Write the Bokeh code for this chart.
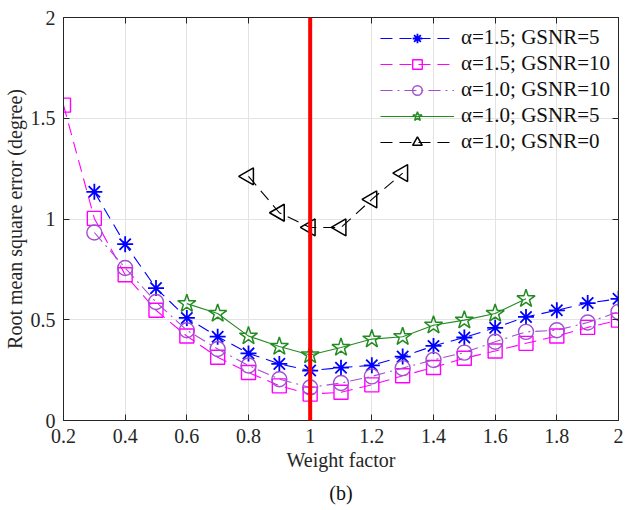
import math

from bokeh.embed import file_html
from bokeh.models import (FixedTicker, Legend, LegendItem, LinearAxis, Range1d,
                          Span, Title)
from bokeh.plotting import figure
from bokeh.resources import INLINE

# --- data -------------------------------------------------------------
w_a15_g5 = [0.3, 0.4, 0.5, 0.6, 0.7, 0.8, 0.9, 1.0, 1.1, 1.2, 1.3, 1.4, 1.5,
            1.6, 1.7, 1.8, 1.9, 2.0]
rmse_a15_g5 = [1.135, 0.875, 0.657, 0.509, 0.416, 0.333, 0.281, 0.248, 0.262,
               0.274, 0.317, 0.370, 0.412, 0.460, 0.514, 0.547, 0.583, 0.604]

w_a15_g10 = [0.2, 0.3, 0.4, 0.5, 0.6, 0.7, 0.8, 0.9, 1.0, 1.1, 1.2, 1.3, 1.4,
             1.5, 1.6, 1.7, 1.8, 1.9, 2.0]
rmse_a15_g10 = [1.565, 1.003, 0.723, 0.547, 0.419, 0.314, 0.238, 0.172, 0.131,
                0.140, 0.177, 0.222, 0.263, 0.309, 0.345, 0.383, 0.419, 0.462,
                0.498]

w_a10_g10 = [0.3, 0.4, 0.5, 0.6, 0.7, 0.8, 0.9, 1.0, 1.1, 1.2, 1.3, 1.4, 1.5,
             1.6, 1.7, 1.8, 1.9, 2.0]
rmse_a10_g10 = [0.933, 0.757, 0.588, 0.448, 0.355, 0.273, 0.205, 0.164, 0.186,
                0.219, 0.260, 0.301, 0.337, 0.391, 0.440, 0.448, 0.486, 0.539]

w_a10_g5 = [0.6, 0.7, 0.8, 0.9, 1.0, 1.1, 1.2, 1.3, 1.4, 1.5, 1.6, 1.7]
rmse_a10_g5 = [0.580, 0.531, 0.419, 0.367, 0.325, 0.362, 0.404, 0.416, 0.473,
               0.498, 0.531, 0.604]

w_a10_g0 = [0.8, 0.9, 1.0, 1.1, 1.2, 1.3]
rmse_a10_g0 = [1.212, 1.031, 0.958, 0.958, 1.097, 1.228]

optimal_weight = 1.0

x_ticks = [0.2, 0.4, 0.6, 0.8, 1.0, 1.2, 1.4, 1.6, 1.8, 2.0]
x_tick_labels = ["0.2", "0.4", "0.6", "0.8", "1", "1.2", "1.4", "1.6", "1.8", "2"]
y_ticks = [0.0, 0.5, 1.0, 1.5, 2.0]
y_tick_labels = ["0", "0.5", "1", "1.5", "2"]

series_labels = ["α=1.5; GSNR=5", "α=1.5; GSNR=10", "α=1.0; GSNR=10",
                 "α=1.0; GSNR=5", "α=1.0; GSNR=0"]
panel_tag = "(b)"

# --- styling ----------------------------------------------------------
FONT = "Liberation Serif"
AXIS_COLOR = "#262626"
GRID_COLOR = "#e3e3e3"

p = figure(width=625, height=510, x_range=Range1d(0.2, 2.0),
           y_range=Range1d(0.0, 2.0), output_backend="svg",
           toolbar_location=None, min_border_left=63, min_border_right=7,
           min_border_top=17, min_border_bottom=87)
p.outline_line_color = None
p.background_fill_color = "white"

x_labels = {t: s for t, s in zip(x_ticks, x_tick_labels)}
y_labels = {t: s for t, s in zip(y_ticks, y_tick_labels)}


def style_axis(ax, ticks, labels):
    ax.ticker = FixedTicker(ticks=ticks)
    ax.axis_line_color = AXIS_COLOR
    ax.axis_line_width = 1
    ax.major_tick_line_color = AXIS_COLOR
    ax.major_tick_in = 6
    ax.major_tick_out = 0
    ax.minor_tick_line_color = None
    ax.major_label_text_font = FONT
    ax.major_label_text_color = "#262626"
    ax.major_label_text_font_size = "20px"
    ax.major_label_overrides = labels
    ax.axis_label_text_font = FONT
    ax.axis_label_text_font_style = "normal"
    ax.axis_label_text_font_size = "20px"
    ax.axis_label_text_color = "#262626"


xaxis = p.xaxis[0]
yaxis = p.yaxis[0]
style_axis(xaxis, x_ticks, x_labels)
style_axis(yaxis, y_ticks, y_labels)
xaxis.axis_label = "Weight factor"
xaxis.major_label_standoff = 8
xaxis.axis_label_standoff = 3
yaxis.axis_label = "Root mean square error (degree)"
yaxis.major_label_standoff = 8
yaxis.axis_label_standoff = 2

# box outline: tick marks on the top and right edges, without labels
top_axis = LinearAxis()
style_axis(top_axis, x_ticks, {t: "" for t in x_ticks})
top_axis.major_label_standoff = 0
p.add_layout(top_axis, "above")
right_axis = LinearAxis()
style_axis(right_axis, y_ticks, {t: "" for t in y_ticks})
right_axis.major_label_standoff = 0
p.add_layout(right_axis, "right")

p.xgrid.ticker = FixedTicker(ticks=x_ticks)
p.ygrid.ticker = FixedTicker(ticks=y_ticks)
p.xgrid.grid_line_color = GRID_COLOR
p.ygrid.grid_line_color = GRID_COLOR

# --- series -----------------------------------------------------------
specs = [
    (w_a15_g5, rmse_a15_g5, "#0000ff", "12 7", "asterisk", 16, 1.8, 0),
    (w_a15_g10, rmse_a15_g10, "#ff00ff", "12 7", "square", 14, 1.4, 0),
    (w_a10_g10, rmse_a10_g10, "#a24fd0", "12 5 2 5", "circle", 15, 1.4, 0),
    (w_a10_g5, rmse_a10_g5, "#228b22", "solid", "star", 19, 1.5, 0),
    (w_a10_g0, rmse_a10_g0, "#000000", "12 7", "triangle", 17, 1.5,
     math.pi / 2),
]

items = []
for (xs, ys, color, dash, marker, size, mlw, ang), label in zip(specs, series_labels):
    line_r = p.line(xs, ys, line_color=color, line_width=1.1, line_dash=dash)
    mark_r = p.scatter(xs, ys, marker=marker, size=size, angle=ang,
                       line_color=color, line_width=mlw, fill_color=None)
    items.append(LegendItem(label=label, renderers=[line_r, mark_r]))

# weight factor of 1 marked with a red vertical line
p.add_layout(Span(location=optimal_weight, dimension="height",
                  line_color="#ff0000", line_width=4))

legend = Legend(items=items, location="top_right", margin=8, padding=0,
                spacing=1, glyph_width=74, glyph_height=24, label_height=24,
                label_standoff=7, label_text_font=FONT,
                label_text_font_size="21px", label_text_color="#111111",
                background_fill_alpha=0, border_line_color=None)
p.add_layout(legend)

# sub-figure tag centred under the axis label
p.add_layout(Title(text=panel_tag, align="center", text_font=FONT,
                   text_font_size="20px", text_font_style="normal",
                   text_color="#111111", standoff=13), "below")

open("out.html", "w").write(file_html(p, INLINE))
